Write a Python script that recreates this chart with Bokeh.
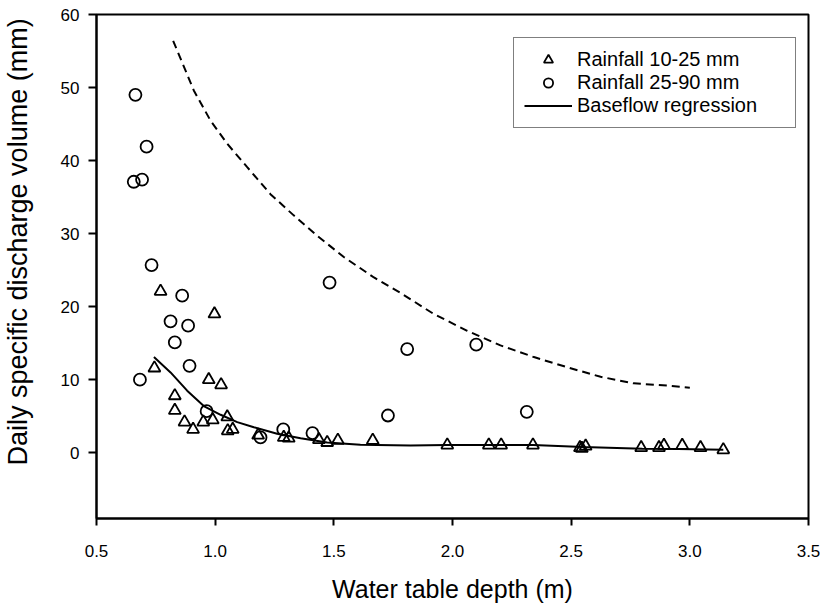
from bokeh.plotting import figure
from bokeh.models import (Range1d, FixedTicker, NumeralTickFormatter, Legend, LegendItem, Title)
from bokeh.embed import file_html
from bokeh.resources import INLINE

# Rainfall 10-25 mm (triangles)
tri_x = [0.770, 0.997, 0.744, 0.973, 1.025, 0.830, 0.830, 0.871, 0.907, 0.950, 0.990,
         1.051, 1.053, 1.074, 1.181, 1.289, 1.310, 1.437, 1.472, 1.517, 1.664, 1.978,
         2.153, 2.205, 2.339, 2.537, 2.561, 2.795, 2.870, 2.891, 2.968, 3.045, 3.141, 2.545]
tri_y = [22.1, 19.0, 11.6, 10.0, 9.3, 7.8, 5.8, 4.2, 3.2, 4.2, 4.5,
         4.9, 3.0, 3.2, 2.4, 2.1, 2.0, 1.8, 1.4, 1.7, 1.7, 1.05,
         1.05, 1.05, 1.05, 0.7, 0.9, 0.7, 0.7, 1.0, 1.0, 0.7, 0.4, 0.6]

# Rainfall 25-90 mm (circles)
cir_x = [0.664, 0.711, 0.657, 0.692, 0.732, 1.482, 0.861, 0.812, 0.886, 0.830, 0.892,
         0.683, 0.964, 1.191, 1.287, 1.410, 1.809, 1.728, 2.100, 2.313]
cir_y = [49.0, 41.9, 37.1, 37.4, 25.7, 23.3, 21.5, 18.0, 17.4, 15.1, 11.9,
         10.0, 5.7, 2.1, 3.2, 2.7, 14.2, 5.1, 14.8, 5.6]

# Baseflow regression (solid)
reg_x = [0.742, 0.812, 0.882, 0.952, 1.023, 1.093, 1.163, 1.261, 1.360, 1.472, 1.612,
         1.823, 1.978, 2.339, 2.55, 2.80, 2.95, 3.141]
reg_y = [13.1, 11.0, 8.5, 6.4, 5.2, 4.2, 3.5, 2.6, 2.0, 1.4, 1.1,
         1.0, 1.05, 1.05, 0.8, 0.55, 0.5, 0.4]

# Dashed envelope curve
env_x = [0.823, 0.910, 0.980, 1.051, 1.135, 1.233, 1.331, 1.430, 1.542, 1.669, 1.780,
         1.921, 2.062, 2.202, 2.343, 2.484, 2.624, 2.764, 2.905, 3.000]
env_y = [56.4, 49.6, 45.5, 42.3, 39.1, 35.4, 32.5, 29.7, 26.8, 24.0, 21.9,
         19.0, 16.7, 14.7, 13.1, 11.7, 10.4, 9.5, 9.2, 8.9]

x_ticks = [0.5, 1.0, 1.5, 2.0, 2.5, 3.0, 3.5]
y_ticks = [0, 10, 20, 30, 40, 50, 60]

FONT = "Liberation Sans"

p = figure(width=820, height=608, output_backend="svg", toolbar_location=None,
           x_range=Range1d(0.5, 3.5), y_range=Range1d(-9, 60),
           min_border_left=96, min_border_top=14, min_border_right=12, min_border_bottom=90)

p.xgrid.visible = False
p.ygrid.visible = False
p.outline_line_color = "black"
p.outline_line_width = 2
p.background_fill_color = "white"
p.border_fill_color = "white"

for ax in (p.xaxis[0], p.yaxis[0]):
    ax.axis_line_width = 2
    ax.axis_line_color = "black"
    ax.major_tick_line_width = 2
    ax.major_tick_in = 0
    ax.minor_tick_line_color = None
    ax.major_label_text_font = FONT
    ax.major_label_text_font_size = "17px"
    ax.major_label_text_color = "black"
    ax.axis_label_text_font = FONT
    ax.axis_label_text_font_style = "normal"
    ax.axis_label_text_color = "black"

p.xaxis[0].ticker = FixedTicker(ticks=x_ticks)
p.xaxis[0].formatter = NumeralTickFormatter(format="0.0")
p.xaxis[0].major_tick_out = 7
p.xaxis[0].major_label_standoff = 19
p.xaxis[0].axis_label = "Water table depth (m)"
p.xaxis[0].axis_label_text_font_size = "25px"
p.xaxis[0].axis_label_standoff = 15

p.yaxis[0].ticker = FixedTicker(ticks=y_ticks)
p.yaxis[0].major_tick_out = 8
p.yaxis[0].major_label_standoff = 9
# thin spacer between tick labels and the vertical title
p.yaxis[0].axis_label = "\u00a0"
p.yaxis[0].axis_label_text_font_size = "2px"
p.yaxis[0].axis_label_standoff = 20

ytitle = Title(text="Daily specific discharge volume (mm)", align="left", offset=53,
               text_font=FONT, text_font_size="27px", text_font_style="normal",
               text_color="black", standoff=0)
p.add_layout(ytitle, "left")

env = p.line(env_x, env_y, line_color="black", line_width=2, line_dash="8 5")
reg = p.line(reg_x, reg_y, line_color="black", line_width=2)
tri = p.scatter(tri_x, tri_y, marker="triangle", size=12, fill_color=None,
                line_color="black", line_width=1.8)
cir = p.scatter(cir_x, cir_y, marker="circle", size=12, fill_color=None,
                line_color="black", line_width=1.8)

legend = Legend(items=[LegendItem(label="Rainfall 10-25 mm", renderers=[tri]),
                       LegendItem(label="Rainfall 25-90 mm", renderers=[cir]),
                       LegendItem(label="Baseflow regression", renderers=[reg])],
                location=(417, 390), orientation="vertical",
                label_text_font=FONT, label_text_font_size="20px", label_text_color="black",
                glyph_width=48, glyph_height=23, label_height=23, label_width=208,
                label_standoff=5, spacing=0, padding=10, margin=0,
                border_line_color="black", border_line_width=1.5,
                background_fill_color="white", background_fill_alpha=1)
p.add_layout(legend, "center")

open("out.html", "w").write(file_html(p, INLINE))
